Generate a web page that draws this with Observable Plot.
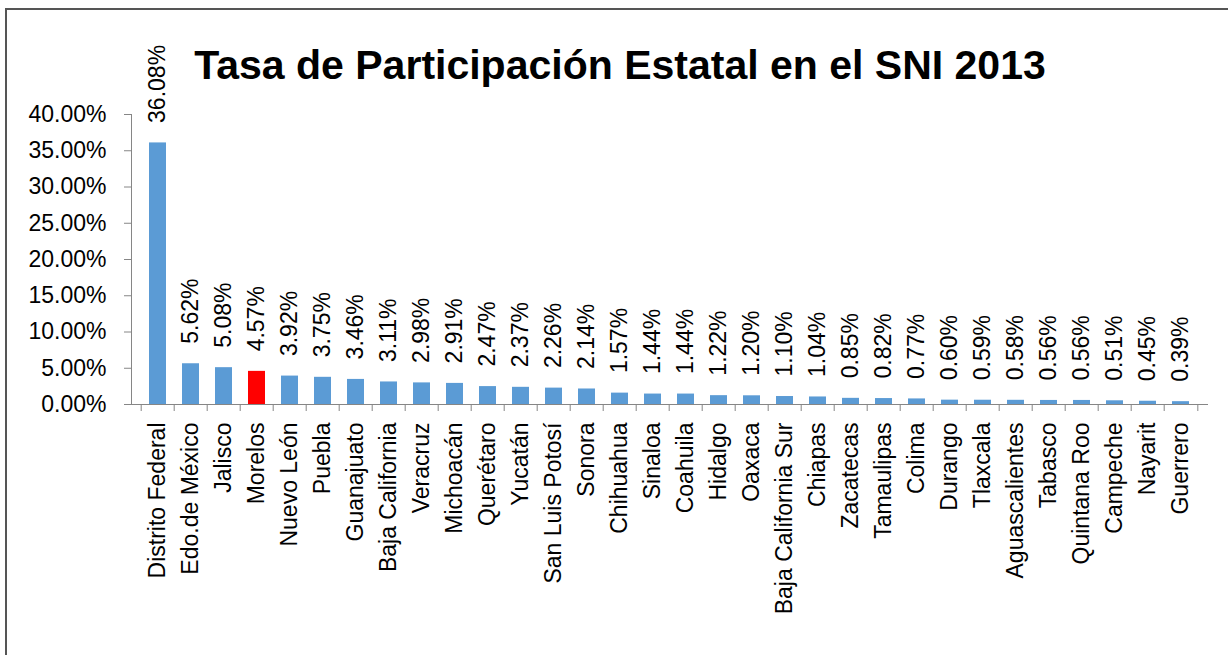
<!DOCTYPE html>
<html>
<head>
<meta charset="utf-8">
<script src="https://cdn.jsdelivr.net/npm/d3@7"></script>
<script src="https://cdn.jsdelivr.net/npm/@observablehq/plot@0.6"></script>
<style>
  html, body { margin: 0; padding: 0; background: #fff; }
  #wrap { position: relative; width: 1228px; height: 655px; overflow: hidden; }
  #border { position: absolute; left: 5px; top: 8px; width: 1300px; height: 700px;
            border-left: 2px solid #555; border-top: 2px solid #555; box-sizing: border-box; }
  #title { position: absolute; left: 0; width: 1240px; top: 45px; text-align: center;
           font-family: "Liberation Sans", Arial, sans-serif; font-weight: bold;
           font-size: 41px; line-height: 1; color: #000; white-space: nowrap; }
  #chart { position: absolute; left: 0; top: 0; }
</style>
</head>
<body>
<div id="wrap">
  <div id="border"></div>
  <div id="chart"></div>
  <div id="title">Tasa de Participación Estatal en el SNI 2013</div>
</div>
<script>
const states = ["Distrito Federal","Edo.de México","Jalisco","Morelos","Nuevo León","Puebla","Guanajuato","Baja California","Veracruz","Michoacán","Querétaro","Yucatán","San Luis Potosí","Sonora","Chihuahua","Sinaloa","Coahuila","Hidalgo","Oaxaca","Baja California Sur","Chiapas","Zacatecas","Tamaulipas","Colima","Durango","Tlaxcala","Aguascalientes","Tabasco","Quintana Roo","Campeche","Nayarit","Guerrero"];
const rates = [36.08,5.62,5.08,4.57,3.92,3.75,3.46,3.11,2.98,2.91,2.47,2.37,2.26,2.14,1.57,1.44,1.44,1.22,1.20,1.10,1.04,0.85,0.82,0.77,0.60,0.59,0.58,0.56,0.56,0.51,0.45,0.39];
const highlight = "Morelos";
const yTicks = [0,0.05,0.10,0.15,0.20,0.25,0.30,0.35,0.40];

const data = states.map((s, i) => ({state: s, value: rates[i] / 100}));

const W = 1228, H = 655, mL = 131, mR = 21;
const step = (W - mL - mR) / states.length;
const axisColor = "#868686";

const chart = Plot.plot({
  width: W,
  height: H,
  marginLeft: mL,
  marginRight: mR,
  marginTop: 114,
  marginBottom: 251,
  style: {fontFamily: "Liberation Sans, Arial, sans-serif", fontSize: "23px", color: "#000", background: "transparent"},
  x: {domain: states, paddingInner: 0.5, paddingOuter: 0.25, label: null},
  y: {domain: [0, 0.4], label: null},
  marks: [
    Plot.barY(data, {x: "state", y: "value", fill: d => d.state === highlight ? "#FF0000" : "#5B9BD5"}),
    Plot.frame({anchor: "left", stroke: axisColor, strokeOpacity: 1}),
    Plot.frame({anchor: "bottom", stroke: axisColor, strokeOpacity: 1}),
    Plot.axisY({ticks: yTicks, tickFormat: d3.format(".2%"), tickSize: 7, tickPadding: 18,
                stroke: axisColor, strokeOpacity: 1, fontSize: 23, fill: "#000", label: null}),
    Plot.axisX({tickSize: 7, text: null, dx: -step / 2, stroke: axisColor, strokeOpacity: 1, label: null}),
    Plot.axisX({ticks: [states[states.length - 1]], tickSize: 7, text: null, dx: step / 2, stroke: axisColor, strokeOpacity: 1, label: null}),
    Plot.axisX({tickSize: 0, tickRotate: -90, tickPadding: 18, fontSize: 23, fill: "#000", label: null}),
    Plot.text(data, {x: "state", y: "value", text: d => d3.format(".2%")(d.value), rotate: -90,
                     textAnchor: "start", dy: -20, fontSize: 23, fill: "#000"})
  ]
});
document.getElementById("chart").appendChild(chart);
</script>
</body>
</html>
